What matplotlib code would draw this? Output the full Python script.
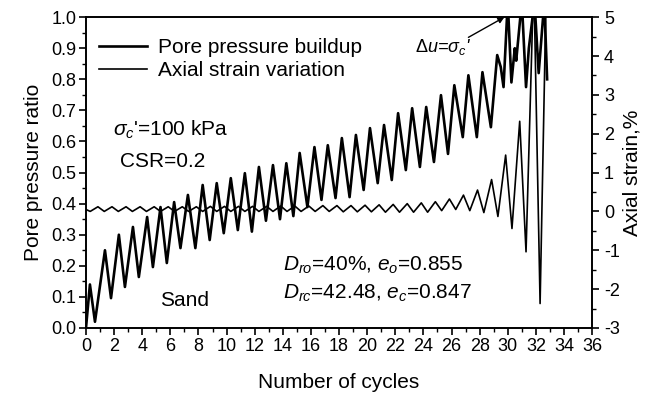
import numpy as np
import matplotlib
matplotlib.use('Agg')
import matplotlib.pyplot as plt
from matplotlib.ticker import MultipleLocator

plt.rcParams['font.family'] = ['Liberation Sans', 'DejaVu Sans']
plt.rcParams['mathtext.fontset'] = 'custom'
plt.rcParams['mathtext.rm'] = 'Liberation Sans'
plt.rcParams['mathtext.it'] = 'Liberation Sans:italic'
plt.rcParams['axes.unicode_minus'] = False

# pore pressure ratio, turning points (cycle, ratio)
pore_peak_cyc = [0.28, 1.35, 2.34, 3.34, 4.35, 5.3, 6.27, 7.25, 8.3, 9.3, 10.3, 11.3, 12.3, 13.3, 14.25,
                 15.2, 16.25, 17.2, 18.2, 19.2, 20.2, 21.2, 22.2, 23.2, 24.2, 25.25, 26.2, 27.2, 28.2, 29.25]
pore_peak = [0.14, 0.25, 0.30, 0.325, 0.357, 0.389, 0.405, 0.428, 0.46, 0.466, 0.482, 0.498, 0.518, 0.524, 0.53,
             0.563, 0.582, 0.588, 0.611, 0.621, 0.643, 0.653, 0.691, 0.707, 0.711, 0.749, 0.781, 0.813, 0.823, 0.878]
pore_trough_cyc = [0.0, 0.64, 1.78, 2.77, 3.76, 4.76, 5.75, 6.72, 7.78, 8.8, 9.8, 10.8, 11.8, 12.8, 13.8, 14.75,
                   15.75, 16.75, 17.75, 18.75, 19.75, 20.75, 21.75, 22.75, 23.75, 24.75, 25.75, 26.8, 27.8, 28.8]
pore_trough = [0.0, 0.02, 0.096, 0.132, 0.164, 0.196, 0.209, 0.257, 0.257, 0.283, 0.305, 0.315, 0.31, 0.345, 0.35,
               0.36, 0.389, 0.412, 0.418, 0.421, 0.444, 0.466, 0.476, 0.508, 0.518, 0.534, 0.56, 0.614, 0.614, 0.646]
# liquefaction stage
pore_fail_cyc = [29.5, 29.7, 30.0, 30.26, 30.5, 30.6, 31.0, 31.3, 31.5, 31.9, 32.2, 32.6, 32.8]
pore_fail = [0.84, 0.775, 1.05, 0.79, 0.9, 0.86, 1.05, 0.775, 0.9, 1.05, 0.82, 1.05, 0.8]

# axial strain (%), turning points
strain_peak_cyc = [0.85, 1.85, 2.85, 3.85, 4.85, 5.85, 6.85, 7.85, 8.85, 9.85, 10.85, 11.85, 12.85, 13.85, 14.85, 15.85,
                   16.85, 17.85, 18.85, 19.85, 20.85, 21.85, 22.85, 23.85, 24.85, 25.85, 26.85, 27.85, 28.85, 29.85,
                   30.85, 31.85, 32.75]
strain_peak = [0.12, 0.12, 0.12, 0.12, 0.12, 0.12, 0.12, 0.12, 0.13, 0.13, 0.13, 0.13, 0.13, 0.14, 0.14, 0.14,
               0.15, 0.15, 0.15, 0.16, 0.17, 0.18, 0.2, 0.22, 0.25, 0.32, 0.42, 0.55, 0.82, 1.45,
               2.32, 6.0, 6.0]
strain_trough_cyc = [0.0, 0.3, 1.3, 2.3, 3.3, 4.3, 5.3, 6.3, 7.3, 8.3, 9.3, 10.3, 11.3, 12.3, 13.3, 14.3, 15.3,
                     16.3, 17.3, 18.3, 19.3, 20.3, 21.3, 22.3, 23.3, 24.3, 25.3, 26.3, 27.3, 28.3, 29.3, 30.3,
                     31.3, 32.3]
strain_trough = [0.05, 0.0, 0.0, 0.0, 0.0, 0.0, 0.0, 0.0, 0.0, 0.0, 0.0, 0.0, 0.0, 0.0, 0.0, 0.0, 0.0,
                 0.0, 0.0, -0.01, -0.01, -0.01, -0.02, -0.02, -0.02, -0.02, 0.02, 0.05, 0.02, -0.03, -0.13, -0.44,
                 -1.04, -2.37]

pc = np.array(pore_peak_cyc + pore_trough_cyc + pore_fail_cyc)
pv = np.array(pore_peak + pore_trough + pore_fail)
o = np.argsort(pc)
pc, pv = pc[o], pv[o]

sc = np.array(strain_peak_cyc + strain_trough_cyc)
sv = np.array(strain_peak + strain_trough)
o = np.argsort(sc)
sc, sv = sc[o], sv[o]

fig = plt.figure(figsize=(6.45, 3.99), dpi=100)
ax = fig.add_axes([0.1333, 0.178, 0.7847, 0.779])
ax2 = ax.twinx()

l1, = ax.plot(pc, pv, color='black', lw=1.9, solid_joinstyle='round')
l2, = ax2.plot(sc, sv, color='black', lw=1.2, solid_joinstyle='round')

ax.set_xlim(0, 36)
ax.set_ylim(0, 1.0)
ax2.set_ylim(-3, 5)

ax.xaxis.set_major_locator(MultipleLocator(2))
ax.xaxis.set_minor_locator(MultipleLocator(1))
ax.yaxis.set_major_locator(MultipleLocator(0.1))
ax.yaxis.set_minor_locator(MultipleLocator(0.05))
ax2.yaxis.set_major_locator(MultipleLocator(1))
ax2.yaxis.set_minor_locator(MultipleLocator(0.5))
ax.yaxis.set_major_formatter(plt.FormatStrFormatter('%.1f'))

for a in (ax, ax2):
    a.tick_params(which='major', direction='out', length=5, width=1.2, labelsize=13)
    a.tick_params(which='minor', direction='out', length=3, width=1.0)
    for s in a.spines.values():
        s.set_linewidth(1.2)
ax.tick_params(axis='both', pad=2)

ax.set_xlabel('Number of cycles', fontsize=15, labelpad=13)
ax.set_ylabel('Pore pressure ratio', fontsize=15, labelpad=6)
ax2.set_ylabel('Axial strain,%', fontsize=15, labelpad=2, rotation=90)

ax.legend([l1, l2], ['Pore pressure buildup', 'Axial strain variation'], loc='upper left',
          frameon=False, fontsize=15, handlelength=2.3, handletextpad=0.5, labelspacing=0.2,
          borderaxespad=0.0, bbox_to_anchor=(0.01, 0.96))

ax.text(1.9, 0.637, r"$\sigma_c$'=100 kPa", fontsize=15, va='center')
ax.text(2.4, 0.534, 'CSR=0.2', fontsize=15, va='center')
ax.text(5.25, 0.09, 'Sand', fontsize=15, va='center')
ax.text(14.0, 0.2, r'$D_{ro}$=40%, $e_o$=0.855', fontsize=15, va='center')
ax.text(14.0, 0.11, r'$D_{rc}$=42.48, $e_c$=0.847', fontsize=15, va='center')
ax.text(23.4, 0.905, r"$\mathit{Δu}$=$\sigma_c$'", fontsize=13, va='center', style='italic')
ax.annotate('', xy=(29.76, 1.0), xytext=(27.2, 0.935),
            arrowprops=dict(arrowstyle='-|>', color='black', lw=1.0, shrinkA=0, shrinkB=0,
                            mutation_scale=9))

fig.savefig('out.png', dpi=100)
